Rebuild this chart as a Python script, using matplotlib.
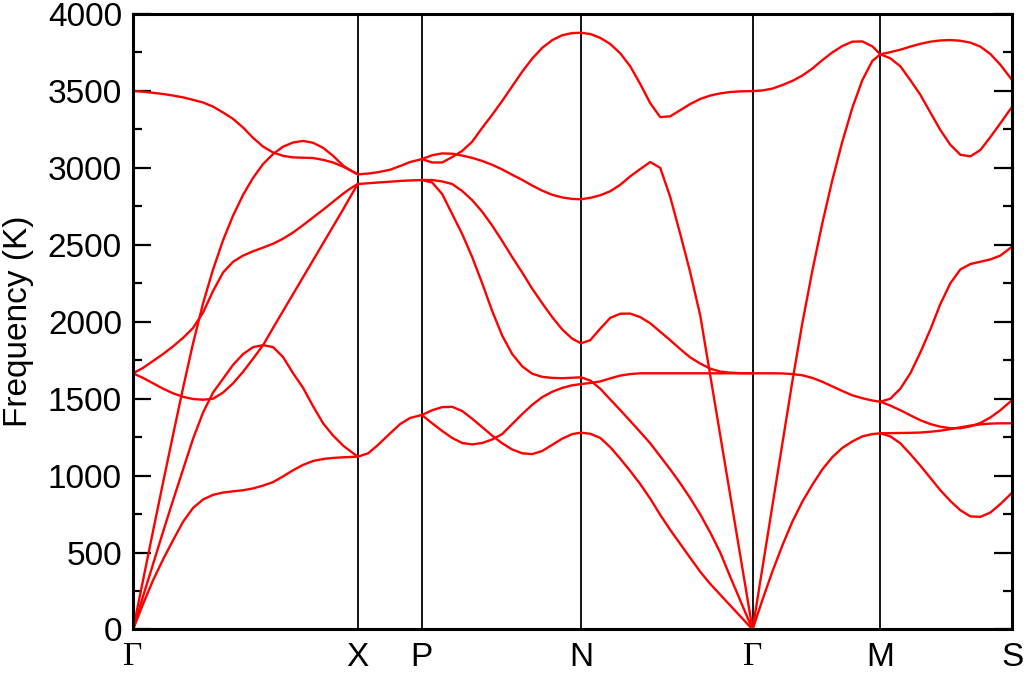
import matplotlib
matplotlib.use("Agg")
import matplotlib.pyplot as plt
from matplotlib.ticker import MultipleLocator

# high-symmetry points along the k-path (path distance, arbitrary units)
kpoint_labels = ["Γ", "X", "P", "N", "Γ", "M", "S"]
kpoint_pos = [0, 224.7, 288.7, 447.7, 619.3, 747, 878.7]

# Γ - X
gx_k = [0, 10, 20, 30, 40, 50, 60, 70, 80, 90, 100, 110, 120, 130, 140, 150,
        160, 170, 180, 190, 200, 210, 217, 224.7]
gx_a = [3500, 3495, 3488, 3480, 3470, 3458, 3442, 3425, 3398, 3360, 3318, 3262,
        3195, 3138, 3100, 3078, 3068, 3066, 3064, 3052, 3035, 3008, 2985, 2958]
gx_b = [0, 320, 640, 955, 1265, 1570, 1860, 2120, 2340, 2530, 2690, 2825,
        2935, 3025, 3090, 3138, 3165, 3175, 3163, 3130, 3078, 3015, 2985, 2958]
gx_c = [1665, 1700, 1745, 1790, 1840, 1895, 1960, 2060, 2200, 2320, 2390, 2430,
        2458, 2482, 2507, 2540, 2580, 2628, 2678, 2728, 2780, 2832, 2865, 2895]
gx_d = [0, 215, 425, 635, 840, 1040, 1240, 1410, 1540, 1630, 1720, 1790,
        1835, 1848, 1835, 1770, 1665, 1570, 1450, 1340, 1260, 1195, 1160, 1123]
gx_e = [1665, 1635, 1600, 1565, 1535, 1512, 1498, 1493, 1500, 1540, 1600, 1675,
        1760, 1848, 1960, 2070, 2180, 2290, 2400, 2510, 2620, 2730, 2810, 2895]
gx_f = [0, 165, 320, 455, 580, 700, 790, 845, 875, 890, 898, 905,
        917, 935, 958, 995, 1035, 1070, 1095, 1108, 1115, 1119, 1121, 1123]

# X - P
xp_k = [224.7, 235, 245, 257, 267, 277, 288.7]
xp_hi = [2958, 2963, 2972, 2988, 3012, 3038, 3057]
xp_mid = [2895, 2900, 2905, 2910, 2915, 2918, 2921]
xp_lo = [1123, 1145, 1200, 1275, 1335, 1375, 1394]

# P - N
pn_k = [288.7, 299, 309, 319, 329, 339, 349, 359, 369, 379, 389, 399, 409,
        419, 429, 439, 447.7]
pn_1 = [3057, 3035, 3035, 3070, 3110, 3170, 3260, 3345, 3435, 3530, 3625, 3710,
        3780, 3830, 3862, 3876, 3878]
pn_2 = [3057, 3082, 3094, 3092, 3080, 3065, 3045, 3020, 2990, 2955, 2922, 2885,
        2852, 2825, 2808, 2798, 2796]
pn_3 = [2921, 2905, 2830, 2700, 2570, 2420, 2250, 2070, 1910, 1790, 1710, 1662,
        1642, 1635, 1633, 1636, 1639]
pn_4 = [2921, 2921, 2912, 2895, 2850, 2790, 2715, 2625, 2525, 2420, 2320, 2215,
        2120, 2030, 1950, 1890, 1860]
pn_5 = [1394, 1425, 1445, 1447, 1420, 1370, 1315, 1260, 1210, 1170, 1145, 1140,
        1160, 1200, 1240, 1270, 1279]
pn_6 = [1394, 1340, 1290, 1245, 1212, 1203, 1212, 1235, 1270, 1335, 1400, 1460,
        1510, 1545, 1570, 1587, 1595]

# N - Γ
ng_k = [447.7, 457, 467, 477, 487, 497, 507, 517, 527, 537, 547, 557, 567,
        577, 587, 597, 607, 619.3]
ng_1 = [3878, 3870, 3845, 3805, 3745, 3660, 3545, 3420, 3330, 3335, 3375, 3415,
        3448, 3470, 3484, 3493, 3497, 3499]
ng_2 = [2796, 2805, 2822, 2848, 2890, 2945, 2992, 3038, 3000, 2810, 2570, 2320,
        2040, 1650, 1260, 870, 480, 0]
ng_3 = [1860, 1880, 1955, 2025, 2052, 2053, 2030, 1990, 1935, 1880, 1822, 1768,
        1728, 1695, 1676, 1669, 1666, 1665]
ng_4 = [1639, 1618, 1565, 1495, 1426, 1355, 1283, 1210, 1125, 1040, 950, 853,
        748, 630, 500, 342, 188, 0]
ng_5 = [1595, 1602, 1612, 1632, 1650, 1660, 1665, 1665, 1665, 1665, 1665, 1665,
        1665, 1665, 1665, 1665, 1665, 1665]
ng_6 = [1279, 1272, 1245, 1185, 1110, 1030, 945, 850, 745, 647, 556, 465,
        375, 296, 226, 156, 86, 0]

# Γ - M
gm_k = [619.3, 629, 639, 649, 659, 669, 679, 689, 699, 709, 719, 729, 739, 747]
gm_1 = [3499, 3503, 3515, 3538, 3565, 3600, 3645, 3700, 3750, 3792, 3820, 3822, 3790, 3738]
gm_2 = [0, 395, 800, 1205, 1610, 1990, 2330, 2640, 2920, 3170, 3390, 3570, 3695, 3738]
gm_3 = [1665, 1665, 1665, 1664, 1660, 1652, 1635, 1610, 1580, 1550, 1522, 1503, 1488, 1480]
gm_4 = [0, 190, 375, 545, 700, 830, 940, 1040, 1120, 1180, 1222, 1255, 1270, 1275]

# M - S
ms_k = [747, 757, 767, 777, 787, 797, 807, 817, 827, 837, 847, 857, 867, 878.7]
ms_1 = [3738, 3752, 3768, 3788, 3806, 3820, 3828, 3831, 3826, 3814, 3788, 3740, 3670, 3571]
ms_2 = [3738, 3712, 3660, 3570, 3475, 3360, 3246, 3150, 3085, 3075, 3116, 3200, 3290, 3397]
ms_3 = [1480, 1500, 1565, 1665, 1800, 1950, 2115, 2250, 2340, 2375, 2390, 2405, 2430, 2488]
ms_4 = [1480, 1455, 1425, 1392, 1360, 1335, 1318, 1308, 1308, 1320, 1342, 1378, 1425, 1491]
ms_5 = [1275, 1276, 1277, 1278, 1280, 1285, 1292, 1302, 1314, 1325, 1333, 1338, 1340, 1340]
ms_6 = [1275, 1255, 1210, 1140, 1065, 985, 905, 835, 775, 735, 732, 760, 815, 889]

segments = [
    (gx_k, [gx_a, gx_b, gx_c, gx_d, gx_e, gx_f]),
    (xp_k, [xp_hi, xp_mid, xp_lo]),
    (pn_k, [pn_1, pn_2, pn_3, pn_4, pn_5, pn_6]),
    (ng_k, [ng_1, ng_2, ng_3, ng_4, ng_5, ng_6]),
    (gm_k, [gm_1, gm_2, gm_3, gm_4]),
    (ms_k, [ms_1, ms_2, ms_3, ms_4, ms_5, ms_6]),
]

plt.rcParams['font.family'] = ['Liberation Sans', 'DejaVu Sans']

fig = plt.figure(figsize=(10.25, 6.76), dpi=100)
ax = fig.add_axes([0.1298, 0.0688, 0.8576, 0.9105])

# vertical lines at the inner symmetry points
for kp in kpoint_pos[1:-1]:
    ax.axvline(kp, color="black", lw=1.3, zorder=1)

for k, bands in segments:
    for band in bands:
        ax.plot(k, band, color="red", lw=1.7, solid_joinstyle="round",
                solid_capstyle="round", zorder=2)

ax.set_xlim(kpoint_pos[0], kpoint_pos[-1])
ax.set_ylim(0, 4000)

ax.yaxis.set_major_locator(MultipleLocator(500))
ax.yaxis.set_minor_locator(MultipleLocator(250))
ax.tick_params(axis="y", which="both", direction="in", left=True, right=True,
               width=1.6, labelsize=24, pad=8)
ax.tick_params(axis="y", which="major", length=13)
ax.tick_params(axis="y", which="minor", length=6.5)

ax.set_xticks(kpoint_pos)
ax.set_xticklabels(kpoint_labels)
ax.tick_params(axis="x", length=0, labelsize=24, pad=9)
for lbl in ax.get_xticklabels():
    if lbl.get_text() == "Γ":
        lbl.set_family(["Liberation Serif", "DejaVu Serif"])

for sp in ax.spines.values():
    sp.set_linewidth(2.2)

ax.set_ylabel("Frequency (K)", fontsize=24, labelpad=10)

plt.savefig("out.png", dpi=100)
